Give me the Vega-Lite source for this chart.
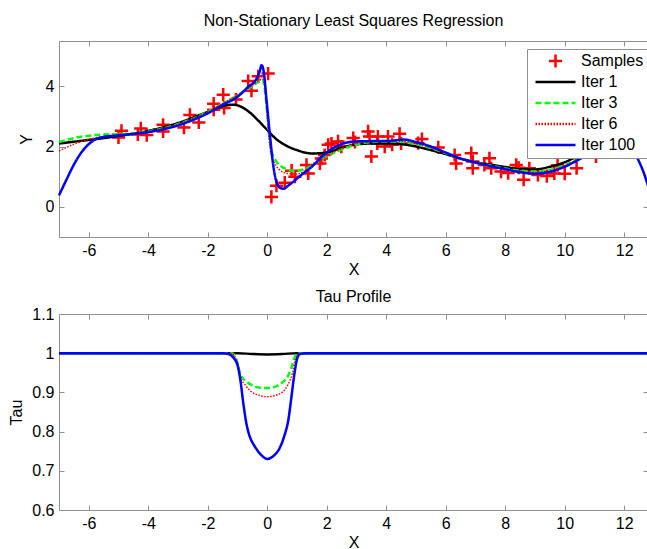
{
  "$schema": "https://vega.github.io/schema/vega-lite/v6.json",
  "background": "white",
  "padding": {"left": 7, "top": 12, "right": 0, "bottom": 0},
  "bounds": "flush",
  "spacing": 77,
  "resolve": {"legend": {"color": "independent", "shape": "independent", "strokeDash": "independent"}},
  "datasets": {
    "samples": [
      {"x": -5.0, "y": 2.3}, {"x": -4.9, "y": 2.52}, {"x": -4.35, "y": 2.4}, {"x": -4.25, "y": 2.6}, {"x": -4.05, "y": 2.38},
      {"x": -3.5, "y": 2.5}, {"x": -3.5, "y": 2.72}, {"x": -2.8, "y": 2.63}, {"x": -2.6, "y": 3.05}, {"x": -2.3, "y": 2.8},
      {"x": -1.8, "y": 3.22}, {"x": -1.8, "y": 3.42}, {"x": -1.48, "y": 3.72}, {"x": -1.45, "y": 3.28}, {"x": -1.05, "y": 3.56},
      {"x": -0.64, "y": 4.17}, {"x": -0.53, "y": 3.85}, {"x": -0.3, "y": 4.33}, {"x": 0.03, "y": 4.42}, {"x": 0.14, "y": 0.33},
      {"x": 0.31, "y": 0.7}, {"x": 0.59, "y": 0.8}, {"x": 0.82, "y": 1.2}, {"x": 0.93, "y": 1.0}, {"x": 1.32, "y": 1.39},
      {"x": 1.38, "y": 1.11}, {"x": 1.77, "y": 1.44}, {"x": 1.82, "y": 1.6}, {"x": 1.93, "y": 1.72}, {"x": 2.05, "y": 2.06},
      {"x": 2.16, "y": 2.1}, {"x": 2.38, "y": 2.17}, {"x": 2.49, "y": 2.0}, {"x": 2.89, "y": 2.28}, {"x": 2.95, "y": 2.15},
      {"x": 3.39, "y": 2.5}, {"x": 3.44, "y": 2.33}, {"x": 3.5, "y": 1.67}, {"x": 3.72, "y": 2.33}, {"x": 3.7, "y": 2.1},
      {"x": 3.95, "y": 2.0}, {"x": 4.06, "y": 2.33}, {"x": 4.2, "y": 2.06}, {"x": 4.45, "y": 2.42}, {"x": 4.5, "y": 2.1},
      {"x": 5.07, "y": 2.11}, {"x": 5.2, "y": 2.25}, {"x": 5.75, "y": 1.97}, {"x": 6.3, "y": 1.72}, {"x": 6.35, "y": 1.44},
      {"x": 6.86, "y": 1.78}, {"x": 6.91, "y": 1.5}, {"x": 6.91, "y": 1.28}, {"x": 7.3, "y": 1.39}, {"x": 7.47, "y": 1.61},
      {"x": 7.53, "y": 1.28}, {"x": 7.86, "y": 1.17}, {"x": 8.1, "y": 1.12}, {"x": 8.37, "y": 1.39}, {"x": 8.45, "y": 1.3},
      {"x": 8.62, "y": 0.9}, {"x": 8.81, "y": 1.28}, {"x": 9.1, "y": 1.06}, {"x": 9.4, "y": 1.02}, {"x": 9.65, "y": 1.11},
      {"x": 9.76, "y": 1.38}, {"x": 10.0, "y": 1.1}, {"x": 10.4, "y": 1.28}, {"x": 11.05, "y": 1.67}, {"x": 11.4, "y": 1.85},
      {"x": 11.8, "y": 2.05}
    ],
    "fit": [
      {"s": "Iter 1", "x": -7, "y": 2.1}, {"s": "Iter 1", "x": -6, "y": 2.22}, {"s": "Iter 1", "x": -5, "y": 2.35}, {"s": "Iter 1", "x": -4, "y": 2.52},
      {"s": "Iter 1", "x": -3, "y": 2.78}, {"s": "Iter 1", "x": -2, "y": 3.15}, {"s": "Iter 1", "x": -1.5, "y": 3.34}, {"s": "Iter 1", "x": -1.15, "y": 3.39},
      {"s": "Iter 1", "x": -0.9, "y": 3.33}, {"s": "Iter 1", "x": -0.6, "y": 3.14}, {"s": "Iter 1", "x": -0.3, "y": 2.86}, {"s": "Iter 1", "x": 0, "y": 2.55},
      {"s": "Iter 1", "x": 0.3, "y": 2.25}, {"s": "Iter 1", "x": 0.6, "y": 2.05}, {"s": "Iter 1", "x": 1.0, "y": 1.88}, {"s": "Iter 1", "x": 1.5, "y": 1.77},
      {"s": "Iter 1", "x": 2.0, "y": 1.8}, {"s": "Iter 1", "x": 2.5, "y": 1.96}, {"s": "Iter 1", "x": 3, "y": 2.07}, {"s": "Iter 1", "x": 3.5, "y": 2.1},
      {"s": "Iter 1", "x": 4, "y": 2.1}, {"s": "Iter 1", "x": 4.5, "y": 2.08}, {"s": "Iter 1", "x": 5, "y": 2.0}, {"s": "Iter 1", "x": 5.5, "y": 1.88},
      {"s": "Iter 1", "x": 6, "y": 1.75}, {"s": "Iter 1", "x": 6.5, "y": 1.6}, {"s": "Iter 1", "x": 7, "y": 1.48}, {"s": "Iter 1", "x": 7.5, "y": 1.4},
      {"s": "Iter 1", "x": 8, "y": 1.32}, {"s": "Iter 1", "x": 8.5, "y": 1.25}, {"s": "Iter 1", "x": 9, "y": 1.24}, {"s": "Iter 1", "x": 9.5, "y": 1.33},
      {"s": "Iter 1", "x": 10, "y": 1.48}, {"s": "Iter 1", "x": 10.5, "y": 1.72}, {"s": "Iter 1", "x": 11, "y": 1.95}, {"s": "Iter 1", "x": 11.5, "y": 2.15},
      {"s": "Iter 1", "x": 12, "y": 2.3}, {"s": "Iter 1", "x": 12.5, "y": 2.35}, {"s": "Iter 1", "x": 12.8, "y": 2.35},

      {"s": "Iter 3", "x": -7, "y": 2.15}, {"s": "Iter 3", "x": -6.5, "y": 2.28}, {"s": "Iter 3", "x": -6, "y": 2.36}, {"s": "Iter 3", "x": -5.5, "y": 2.4},
      {"s": "Iter 3", "x": -5, "y": 2.41}, {"s": "Iter 3", "x": -4.5, "y": 2.44}, {"s": "Iter 3", "x": -4, "y": 2.5}, {"s": "Iter 3", "x": -3.5, "y": 2.6},
      {"s": "Iter 3", "x": -3, "y": 2.74}, {"s": "Iter 3", "x": -2.5, "y": 2.92}, {"s": "Iter 3", "x": -2, "y": 3.15}, {"s": "Iter 3", "x": -1.5, "y": 3.42},
      {"s": "Iter 3", "x": -1, "y": 3.7}, {"s": "Iter 3", "x": -0.6, "y": 3.95}, {"s": "Iter 3", "x": -0.3, "y": 4.14}, {"s": "Iter 3", "x": -0.15, "y": 4.2},
      {"s": "Iter 3", "x": -0.08, "y": 3.9}, {"s": "Iter 3", "x": 0, "y": 3.1}, {"s": "Iter 3", "x": 0.05, "y": 2.6}, {"s": "Iter 3", "x": 0.12, "y": 1.94},
      {"s": "Iter 3", "x": 0.31, "y": 1.5}, {"s": "Iter 3", "x": 0.59, "y": 1.28}, {"s": "Iter 3", "x": 0.93, "y": 1.19}, {"s": "Iter 3", "x": 1.38, "y": 1.3},
      {"s": "Iter 3", "x": 1.82, "y": 1.58}, {"s": "Iter 3", "x": 2.5, "y": 1.9}, {"s": "Iter 3", "x": 3, "y": 2.07}, {"s": "Iter 3", "x": 3.5, "y": 2.15},
      {"s": "Iter 3", "x": 4, "y": 2.17}, {"s": "Iter 3", "x": 4.5, "y": 2.16}, {"s": "Iter 3", "x": 5, "y": 2.08}, {"s": "Iter 3", "x": 5.5, "y": 1.95},
      {"s": "Iter 3", "x": 6, "y": 1.78}, {"s": "Iter 3", "x": 6.5, "y": 1.6}, {"s": "Iter 3", "x": 7, "y": 1.47}, {"s": "Iter 3", "x": 7.5, "y": 1.37},
      {"s": "Iter 3", "x": 8, "y": 1.27}, {"s": "Iter 3", "x": 8.5, "y": 1.2}, {"s": "Iter 3", "x": 9, "y": 1.17}, {"s": "Iter 3", "x": 9.5, "y": 1.22},
      {"s": "Iter 3", "x": 10, "y": 1.38}, {"s": "Iter 3", "x": 10.5, "y": 1.62}, {"s": "Iter 3", "x": 11, "y": 1.85}, {"s": "Iter 3", "x": 11.5, "y": 2.0},
      {"s": "Iter 3", "x": 12, "y": 2.1}, {"s": "Iter 3", "x": 12.5, "y": 2.15}, {"s": "Iter 3", "x": 12.8, "y": 2.15},

      {"s": "Iter 6", "x": -7, "y": 1.85}, {"s": "Iter 6", "x": -6.5, "y": 2.08}, {"s": "Iter 6", "x": -6, "y": 2.24}, {"s": "Iter 6", "x": -5.5, "y": 2.33},
      {"s": "Iter 6", "x": -5, "y": 2.38}, {"s": "Iter 6", "x": -4.5, "y": 2.43}, {"s": "Iter 6", "x": -4, "y": 2.5}, {"s": "Iter 6", "x": -3.5, "y": 2.6},
      {"s": "Iter 6", "x": -3, "y": 2.74}, {"s": "Iter 6", "x": -2.5, "y": 2.92}, {"s": "Iter 6", "x": -2, "y": 3.15}, {"s": "Iter 6", "x": -1.5, "y": 3.42},
      {"s": "Iter 6", "x": -1, "y": 3.7}, {"s": "Iter 6", "x": -0.6, "y": 3.96}, {"s": "Iter 6", "x": -0.3, "y": 4.17}, {"s": "Iter 6", "x": -0.15, "y": 4.24},
      {"s": "Iter 6", "x": -0.07, "y": 3.9}, {"s": "Iter 6", "x": 0, "y": 3.0}, {"s": "Iter 6", "x": 0.05, "y": 2.4}, {"s": "Iter 6", "x": 0.12, "y": 1.8},
      {"s": "Iter 6", "x": 0.31, "y": 1.35}, {"s": "Iter 6", "x": 0.59, "y": 1.13}, {"s": "Iter 6", "x": 0.93, "y": 1.08}, {"s": "Iter 6", "x": 1.38, "y": 1.25},
      {"s": "Iter 6", "x": 1.82, "y": 1.57}, {"s": "Iter 6", "x": 2.5, "y": 1.93}, {"s": "Iter 6", "x": 3, "y": 2.1}, {"s": "Iter 6", "x": 3.5, "y": 2.16},
      {"s": "Iter 6", "x": 4, "y": 2.18}, {"s": "Iter 6", "x": 4.5, "y": 2.18}, {"s": "Iter 6", "x": 5, "y": 2.1}, {"s": "Iter 6", "x": 5.5, "y": 1.96},
      {"s": "Iter 6", "x": 6, "y": 1.79}, {"s": "Iter 6", "x": 6.5, "y": 1.61}, {"s": "Iter 6", "x": 7, "y": 1.47}, {"s": "Iter 6", "x": 7.5, "y": 1.36},
      {"s": "Iter 6", "x": 8, "y": 1.25}, {"s": "Iter 6", "x": 8.5, "y": 1.17}, {"s": "Iter 6", "x": 9, "y": 1.14}, {"s": "Iter 6", "x": 9.5, "y": 1.2},
      {"s": "Iter 6", "x": 10, "y": 1.36}, {"s": "Iter 6", "x": 10.5, "y": 1.62}, {"s": "Iter 6", "x": 11, "y": 1.87}, {"s": "Iter 6", "x": 11.5, "y": 2.03},
      {"s": "Iter 6", "x": 12, "y": 2.12}, {"s": "Iter 6", "x": 12.5, "y": 2.15}, {"s": "Iter 6", "x": 12.8, "y": 2.15},

      {"s": "Iter 100", "x": -7, "y": 0.38}, {"s": "Iter 100", "x": -6.75, "y": 0.9}, {"s": "Iter 100", "x": -6.5, "y": 1.4}, {"s": "Iter 100", "x": -6.25, "y": 1.8},
      {"s": "Iter 100", "x": -6, "y": 2.08}, {"s": "Iter 100", "x": -5.75, "y": 2.25}, {"s": "Iter 100", "x": -5.5, "y": 2.32}, {"s": "Iter 100", "x": -5, "y": 2.37},
      {"s": "Iter 100", "x": -4.5, "y": 2.42}, {"s": "Iter 100", "x": -4, "y": 2.48}, {"s": "Iter 100", "x": -3.5, "y": 2.57}, {"s": "Iter 100", "x": -3, "y": 2.7},
      {"s": "Iter 100", "x": -2.5, "y": 2.88}, {"s": "Iter 100", "x": -2, "y": 3.1}, {"s": "Iter 100", "x": -1.5, "y": 3.38}, {"s": "Iter 100", "x": -1, "y": 3.65},
      {"s": "Iter 100", "x": -0.64, "y": 3.98}, {"s": "Iter 100", "x": -0.36, "y": 4.25}, {"s": "Iter 100", "x": -0.25, "y": 4.5}, {"s": "Iter 100", "x": -0.19, "y": 4.7},
      {"s": "Iter 100", "x": -0.12, "y": 4.5}, {"s": "Iter 100", "x": -0.02, "y": 3.5}, {"s": "Iter 100", "x": 0.09, "y": 2.39}, {"s": "Iter 100", "x": 0.2, "y": 1.39},
      {"s": "Iter 100", "x": 0.31, "y": 0.83}, {"s": "Iter 100", "x": 0.45, "y": 0.62}, {"s": "Iter 100", "x": 0.55, "y": 0.6}, {"s": "Iter 100", "x": 0.7, "y": 0.7},
      {"s": "Iter 100", "x": 1.15, "y": 1.06}, {"s": "Iter 100", "x": 1.5, "y": 1.33}, {"s": "Iter 100", "x": 1.85, "y": 1.68}, {"s": "Iter 100", "x": 2.5, "y": 2.08},
      {"s": "Iter 100", "x": 3, "y": 2.17}, {"s": "Iter 100", "x": 3.5, "y": 2.18}, {"s": "Iter 100", "x": 4, "y": 2.18}, {"s": "Iter 100", "x": 4.6, "y": 2.23},
      {"s": "Iter 100", "x": 5, "y": 2.15}, {"s": "Iter 100", "x": 5.5, "y": 2.0}, {"s": "Iter 100", "x": 6, "y": 1.8}, {"s": "Iter 100", "x": 6.5, "y": 1.6},
      {"s": "Iter 100", "x": 7, "y": 1.47}, {"s": "Iter 100", "x": 7.5, "y": 1.35}, {"s": "Iter 100", "x": 8, "y": 1.25}, {"s": "Iter 100", "x": 8.5, "y": 1.15},
      {"s": "Iter 100", "x": 9, "y": 1.1}, {"s": "Iter 100", "x": 9.5, "y": 1.16}, {"s": "Iter 100", "x": 10, "y": 1.33}, {"s": "Iter 100", "x": 10.5, "y": 1.58},
      {"s": "Iter 100", "x": 11, "y": 1.85}, {"s": "Iter 100", "x": 11.5, "y": 2.05}, {"s": "Iter 100", "x": 12, "y": 2.05}, {"s": "Iter 100", "x": 12.3, "y": 1.85},
      {"s": "Iter 100", "x": 12.5, "y": 1.5}, {"s": "Iter 100", "x": 12.65, "y": 1.15}, {"s": "Iter 100", "x": 12.8, "y": 0.7}
    ],
    "tau": [
      {"s": "Iter 1", "x": -7, "y": 1}, {"s": "Iter 1", "x": -1, "y": 1}, {"s": "Iter 1", "x": -0.5, "y": 0.998}, {"s": "Iter 1", "x": 0, "y": 0.997},
      {"s": "Iter 1", "x": 0.5, "y": 0.998}, {"s": "Iter 1", "x": 1, "y": 1}, {"s": "Iter 1", "x": 12.8, "y": 1},

      {"s": "Iter 3", "x": -7, "y": 1}, {"s": "Iter 3", "x": -1.2, "y": 1}, {"s": "Iter 3", "x": -1.1, "y": 0.995}, {"s": "Iter 3", "x": -1.0, "y": 0.975},
      {"s": "Iter 3", "x": -0.9, "y": 0.945}, {"s": "Iter 3", "x": -0.7, "y": 0.928}, {"s": "Iter 3", "x": -0.5, "y": 0.918}, {"s": "Iter 3", "x": -0.25, "y": 0.912},
      {"s": "Iter 3", "x": 0, "y": 0.911}, {"s": "Iter 3", "x": 0.25, "y": 0.914}, {"s": "Iter 3", "x": 0.5, "y": 0.925}, {"s": "Iter 3", "x": 0.7, "y": 0.942},
      {"s": "Iter 3", "x": 0.8, "y": 0.96}, {"s": "Iter 3", "x": 0.9, "y": 0.985}, {"s": "Iter 3", "x": 1.0, "y": 0.998}, {"s": "Iter 3", "x": 1.1, "y": 1},
      {"s": "Iter 3", "x": 12.8, "y": 1},

      {"s": "Iter 6", "x": -7, "y": 1}, {"s": "Iter 6", "x": -1.2, "y": 1}, {"s": "Iter 6", "x": -1.1, "y": 0.993}, {"s": "Iter 6", "x": -1.0, "y": 0.975},
      {"s": "Iter 6", "x": -0.9, "y": 0.94}, {"s": "Iter 6", "x": -0.7, "y": 0.915}, {"s": "Iter 6", "x": -0.5, "y": 0.9}, {"s": "Iter 6", "x": -0.25, "y": 0.892},
      {"s": "Iter 6", "x": 0, "y": 0.889}, {"s": "Iter 6", "x": 0.25, "y": 0.892}, {"s": "Iter 6", "x": 0.5, "y": 0.9}, {"s": "Iter 6", "x": 0.7, "y": 0.92},
      {"s": "Iter 6", "x": 0.85, "y": 0.95}, {"s": "Iter 6", "x": 0.95, "y": 0.985}, {"s": "Iter 6", "x": 1.05, "y": 0.998}, {"s": "Iter 6", "x": 1.2, "y": 1},
      {"s": "Iter 6", "x": 12.8, "y": 1},

      {"s": "Iter 100", "x": -7, "y": 1}, {"s": "Iter 100", "x": -1.5, "y": 1}, {"s": "Iter 100", "x": -1.3, "y": 0.998}, {"s": "Iter 100", "x": -1.15, "y": 0.99},
      {"s": "Iter 100", "x": -1.0, "y": 0.97}, {"s": "Iter 100", "x": -0.9, "y": 0.93}, {"s": "Iter 100", "x": -0.8, "y": 0.87}, {"s": "Iter 100", "x": -0.7, "y": 0.82},
      {"s": "Iter 100", "x": -0.6, "y": 0.79}, {"s": "Iter 100", "x": -0.4, "y": 0.76}, {"s": "Iter 100", "x": -0.2, "y": 0.74}, {"s": "Iter 100", "x": 0, "y": 0.73},
      {"s": "Iter 100", "x": 0.2, "y": 0.737}, {"s": "Iter 100", "x": 0.4, "y": 0.755}, {"s": "Iter 100", "x": 0.6, "y": 0.795}, {"s": "Iter 100", "x": 0.7, "y": 0.825},
      {"s": "Iter 100", "x": 0.8, "y": 0.88}, {"s": "Iter 100", "x": 0.9, "y": 0.94}, {"s": "Iter 100", "x": 1.0, "y": 0.985}, {"s": "Iter 100", "x": 1.1, "y": 0.998},
      {"s": "Iter 100", "x": 1.3, "y": 1}, {"s": "Iter 100", "x": 12.8, "y": 1}
    ]
  },
  "config": {
    "font": "Liberation Sans",
    "view": {"stroke": "#8f8f8f", "strokeWidth": 1},
    "axis": {
      "labelFont": "Liberation Sans", "labelFontSize": 16, "labelColor": "black",
      "titleFont": "Liberation Sans", "titleFontSize": 16, "titleFontWeight": "normal", "titleColor": "black",
      "tickColor": "#8f8f8f", "tickSize": -5, "domain": false, "grid": false, "labelPadding": 10
    },
    "legend": {
      "title": null, "orient": "none", "legendX": 468, "legendY": 8,
      "padding": 5, "symbolOffset": 2, "labelOffset": 4, "clipHeight": 14, "rowPadding": 5,
      "symbolSize": 1600, "symbolStrokeWidth": 2.5, "strokeColor": "#8f8f8f", "fillColor": "white",
      "labelFont": "Liberation Sans", "labelFontSize": 16, "labelColor": "black", "labelLimit": 0
    },
    "title": {"font": "Liberation Sans", "fontSize": 16, "fontWeight": "normal", "color": "black", "offset": 12, "baseline": "alphabetic"}
  },
  "vconcat": [
    {
      "width": 589,
      "height": 196,
      "title": "Non-Stationary Least Squares Regression",
      "layer": [
        {
          "data": {"name": "samples"},
          "transform": [{"calculate": "'Samples'", "as": "s"}],
          "mark": {"type": "point", "filled": false, "size": 1600, "strokeWidth": 2.5, "opacity": 1},
          "encoding": {
            "x": {"field": "x", "type": "quantitative", "scale": {"domain": [-7, 12.8], "nice": false, "zero": false},
                  "axis": {"orient": "bottom", "values": [-6, -4, -2, 0, 2, 4, 6, 8, 10, 12], "labelExpr": "'' + datum.value", "title": "X", "titleX": 294.5, "titleY": 32, "titleBaseline": "middle"}},
            "y": {"field": "y", "type": "quantitative", "scale": {"domain": [-1, 5.5], "nice": false, "zero": false},
                  "axis": {"orient": "left", "values": [0, 2, 4], "labelExpr": "'' + datum.value", "title": "Y", "titleX": -33, "titleY": 98, "titleBaseline": "middle", "titleAngle": -90, "titleAlign": "center"}},
            "color": {"field": "s", "type": "nominal", "title": null,
                      "scale": {"domain": ["Samples", "Iter 1", "Iter 3", "Iter 6", "Iter 100"], "range": ["#ff0000", "#000000", "#00ff00", "#ff0000", "#0000ff"]}},
            "shape": {"field": "s", "type": "nominal", "title": null,
                      "scale": {"domain": ["Samples", "Iter 1", "Iter 3", "Iter 6", "Iter 100"], "range": ["M-0.33,0H0.33M0,-0.33V0.33", "stroke", "stroke", "stroke", "stroke"]}}
          }
        },
        {
          "data": {"name": "fit"},
          "transform": [{"filter": "datum.s === 'Iter 1'"}],
          "mark": {"type": "line", "strokeWidth": 2.5, "interpolate": "monotone"},
          "encoding": {
            "x": {"field": "x", "type": "quantitative", "axis": {"orient": "top", "labels": false, "title": null, "values": [-6, -4, -2, 0, 2, 4, 6, 8, 10, 12]}},
            "y": {"field": "y", "type": "quantitative", "axis": {"orient": "right", "labels": false, "title": null, "values": [0, 2, 4]}},
            "color": {"field": "s", "type": "nominal", "title": null},
            "strokeDash": {"field": "s", "type": "nominal", "title": null,
                           "scale": {"domain": ["Samples", "Iter 1", "Iter 3", "Iter 6", "Iter 100"], "range": [[1, 0], [1, 0], [6, 3], [1.5, 1.5], [1, 0]]}}
          }
        },
        {
          "data": {"name": "fit"},
          "transform": [{"filter": "datum.s === 'Iter 3'"}],
          "mark": {"type": "line", "strokeWidth": 2.5, "interpolate": "monotone"},
          "encoding": {
            "x": {"field": "x", "type": "quantitative", "axis": null},
            "y": {"field": "y", "type": "quantitative", "axis": null},
            "color": {"field": "s", "type": "nominal", "title": null},
            "strokeDash": {"field": "s", "type": "nominal", "title": null}
          }
        },
        {
          "data": {"name": "fit"},
          "transform": [{"filter": "datum.s === 'Iter 6'"}],
          "mark": {"type": "line", "strokeWidth": 1.5, "interpolate": "monotone"},
          "encoding": {
            "x": {"field": "x", "type": "quantitative", "axis": null},
            "y": {"field": "y", "type": "quantitative", "axis": null},
            "color": {"field": "s", "type": "nominal", "title": null},
            "strokeDash": {"field": "s", "type": "nominal", "title": null}
          }
        },
        {
          "data": {"name": "fit"},
          "transform": [{"filter": "datum.s === 'Iter 100'"}],
          "mark": {"type": "line", "strokeWidth": 2.5, "interpolate": "monotone"},
          "encoding": {
            "x": {"field": "x", "type": "quantitative", "axis": null},
            "y": {"field": "y", "type": "quantitative", "axis": null},
            "color": {"field": "s", "type": "nominal", "title": null},
            "strokeDash": {"field": "s", "type": "nominal", "title": null}
          }
        }
      ],
      "resolve": {"axis": {"x": "independent", "y": "independent"}}
    },
    {
      "width": 589,
      "height": 196,
      "title": {"text": "Tau Profile", "offset": 1},
      "layer": [
        {
          "data": {"name": "tau"},
          "transform": [{"filter": "datum.s === 'Iter 1'"}],
          "mark": {"type": "line", "strokeWidth": 2.5, "color": "#000000", "interpolate": "monotone"},
          "encoding": {
            "x": {"field": "x", "type": "quantitative", "scale": {"domain": [-7, 12.8], "nice": false, "zero": false},
                  "axis": {"orient": "bottom", "values": [-6, -4, -2, 0, 2, 4, 6, 8, 10, 12], "labelExpr": "'' + datum.value", "title": "X", "titleX": 294.5, "titleY": 32, "titleBaseline": "middle"}},
            "y": {"field": "y", "type": "quantitative", "scale": {"domain": [0.6, 1.1], "nice": false, "zero": false},
                  "axis": {"orient": "left", "values": [0.6, 0.7, 0.8, 0.9, 1, 1.1], "labelExpr": "'' + datum.value", "title": "Tau", "titleX": -43, "titleY": 98, "titleBaseline": "middle", "titleAngle": -90, "titleAlign": "center"}}
          }
        },
        {
          "data": {"name": "tau"},
          "transform": [{"filter": "datum.s === 'Iter 3'"}],
          "mark": {"type": "line", "strokeWidth": 2.5, "strokeDash": [6, 3], "color": "#00ff00", "interpolate": "monotone"},
          "encoding": {
            "x": {"field": "x", "type": "quantitative", "axis": {"orient": "top", "labels": false, "title": null, "values": [-6, -4, -2, 0, 2, 4, 6, 8, 10, 12]}},
            "y": {"field": "y", "type": "quantitative", "axis": {"orient": "right", "labels": false, "title": null, "values": [0.6, 0.7, 0.8, 0.9, 1, 1.1]}}
          }
        },
        {
          "data": {"name": "tau"},
          "transform": [{"filter": "datum.s === 'Iter 6'"}],
          "mark": {"type": "line", "strokeWidth": 1.5, "strokeDash": [1.5, 1.5], "color": "#ff0000", "interpolate": "monotone"},
          "encoding": {
            "x": {"field": "x", "type": "quantitative", "axis": null},
            "y": {"field": "y", "type": "quantitative", "axis": null}
          }
        },
        {
          "data": {"name": "tau"},
          "transform": [{"filter": "datum.s === 'Iter 100'"}],
          "mark": {"type": "line", "strokeWidth": 2.5, "color": "#0000ff", "interpolate": "monotone"},
          "encoding": {
            "x": {"field": "x", "type": "quantitative", "axis": null},
            "y": {"field": "y", "type": "quantitative", "axis": null}
          }
        }
      ],
      "resolve": {"axis": {"x": "independent", "y": "independent"}}
    }
  ]
}
